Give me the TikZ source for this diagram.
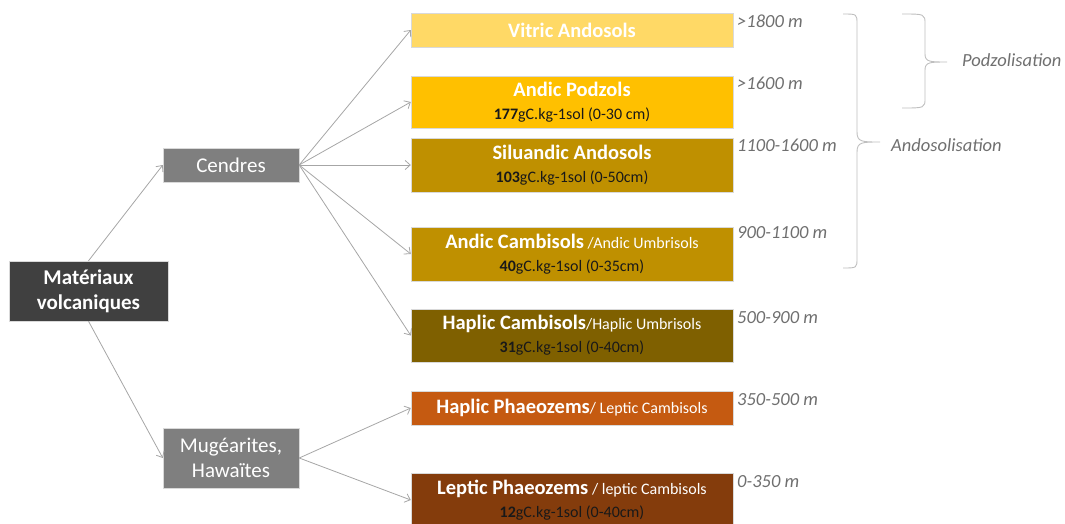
\documentclass[tikz,border=0pt]{standalone}
\usepackage{fontspec}
\setmainfont{Carlito}
\usetikzlibrary{arrows.meta}
\definecolor{darkbox}{HTML}{404040}
\definecolor{midbox}{HTML}{7F7F7F}
\definecolor{cVitric}{HTML}{FFD966}
\definecolor{cPodzol}{HTML}{FFC000}
\definecolor{cSilu}{HTML}{BF9000}
\definecolor{cHapC}{HTML}{7F6000}
\definecolor{cHapP}{HTML}{C55A11}
\definecolor{cLept}{HTML}{843C0C}
\definecolor{arrowgray}{HTML}{A6A6A6}
\definecolor{altgray}{HTML}{6F6F6F}
\definecolor{bracegray}{HTML}{BFBFBF}
\newcommand{\soilname}[1]{{\fontsize{20.5}{23}\selectfont\bfseries #1}}
\newcommand{\subname}[1]{{\fontsize{16}{19}\selectfont #1}}
\newcommand{\carbline}[2]{{\fontsize{16}{19}\selectfont\color{black!90}\textbf{#1}#2}}
\tikzset{
  box/.style={draw=white!85!black, line width=0.4pt, inner sep=0pt, text=white, align=center, font=\fontsize{20.5}{23}\selectfont},
  soil/.style={box, minimum width=322pt},
  src/.style={box, minimum width=136pt},
  arr/.style={draw=arrowgray, line width=0.8pt, -{Straight Barb[length=5pt,width=9pt]}},
  alt/.style={anchor=base west, inner sep=0pt, text=altgray, font=\fontsize{18.5}{22}\selectfont\itshape},
  brace/.style={draw=bracegray, line width=0.9pt},
}
\begin{document}
\begin{tikzpicture}[x=1pt,y=-1pt]
\useasboundingbox (0,0) rectangle (1065,523);
% left nodes
\node[box, fill=darkbox, minimum width=159pt, minimum height=60pt, font=\fontsize{21}{25}\selectfont\bfseries] (mat) at (88.5,291) {Matériaux\\volcaniques};
\node[src, fill=midbox, minimum height=34pt, font=\fontsize{21}{25}\selectfont] (cen) at (231,165) {Cendres};
\node[src, fill=midbox, minimum height=60pt, font=\fontsize{21}{25}\selectfont] (mug) at (231,458) {Mugéarites,\\Hawaïtes};
% soils
\node[soil, fill=cVitric, minimum height=34pt] (vit) at (572,30) {\soilname{Vitric Andosols}};
\node[soil, fill=cPodzol, minimum height=52pt] (pod) at (572,102) {\soilname{Andic Podzols}\\[0pt]\carbline{177}{gC.kg-1sol (0-30 cm)}};
\node[soil, fill=cSilu, minimum height=54pt] (sil) at (572,165) {\soilname{Siluandic Andosols}\\[0pt]\carbline{103}{gC.kg-1sol (0-50cm)}};
\node[soil, fill=cSilu, minimum height=54pt] (acam) at (572,254) {\soilname{Andic Cambisols}\subname{ /Andic Umbrisols}\\[0pt]\carbline{40}{gC.kg-1sol (0-35cm)}};
\node[soil, fill=cHapC, minimum height=53pt] (hcam) at (572,335.5) {\soilname{Haplic Cambisols}\subname{/Haplic Umbrisols}\\[0pt]\carbline{31}{gC.kg-1sol (0-40cm)}};
\node[soil, fill=cHapP, minimum height=34pt] (hpha) at (572,408) {\soilname{Haplic Phaeozems}\subname{/ Leptic Cambisols}};
\node[soil, fill=cLept, minimum height=54pt] (lpha) at (572,500) {\soilname{Leptic Phaeozems}\subname{ / leptic Cambisols}\\[0pt]\carbline{12}{gC.kg-1sol (0-40cm)}};
% connectors
\draw[arr] (mat.north) -- (cen.west);
\draw[arr] (mat.south) -- (mug.west);
\foreach \t in {vit,pod,sil,acam,hcam} \draw[arr] (cen.east) -- (\t.west);
\foreach \t in {hpha,lpha} \draw[arr] (mug.east) -- (\t.west);
% altitudes
\node[alt] (a1) at (737,27) {>1800 m};
\node[alt] (a2) at (737,89) {>1600 m};
\node[alt] (a3) at (737,151) {1100-1600 m};
\node[alt] (a4) at (737,238) {900-1100 m};
\node[alt] (a5) at (737,323) {500-900 m};
\node[alt] (a6) at (737,405) {350-500 m};
\node[alt] (a7) at (737,487) {0-350 m};
% braces
\draw[brace] (843,14) .. controls (857,14) and (857,14) .. (857,24) -- (857,132)
  .. controls (857,142) and (862,142) .. (880,142)
  .. controls (862,142) and (857,142) .. (857,152) -- (857,258)
  .. controls (857,268) and (857,268) .. (843,268);
\draw[brace] (902,14) .. controls (925,14) and (925,14) .. (925,24) -- (925,54)
  .. controls (925,62) and (930,62) .. (947,62)
  .. controls (930,62) and (925,62) .. (925,70) -- (925,98)
  .. controls (925,108) and (925,108) .. (902,108);
\node[alt] (andos) at (891,151) {Andosolisation};
\node[alt] (podz) at (962,66) {Podzolisation};
\end{tikzpicture}
\end{document}
